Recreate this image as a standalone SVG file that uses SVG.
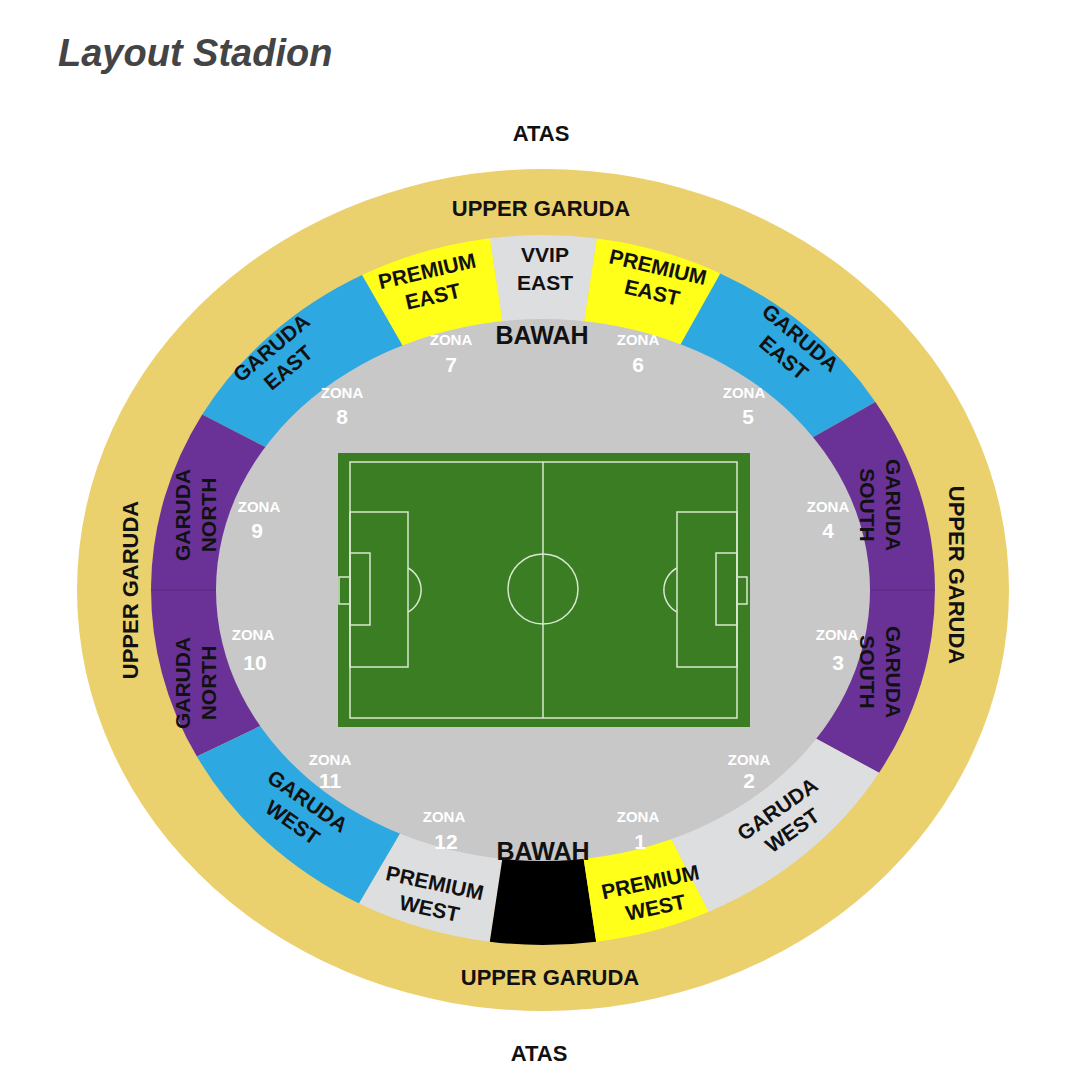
<svg xmlns="http://www.w3.org/2000/svg" width="1080" height="1072" viewBox="0 0 1080 1072">
<style>
text{font-family:"Liberation Sans",Arial,sans-serif;font-weight:bold;text-anchor:middle}
.l{font-size:22px;fill:#111}
.s{font-size:21px;fill:#111}
.z{font-size:15px;fill:#fff}
.zn{font-size:21px;fill:#fff}
.fl{fill:none;stroke:#d8e8d0;stroke-width:1.5}
</style>
<rect width="1080" height="1072" fill="#fff"/>
<text x="58" y="66" style="font-size:38px;font-style:italic;fill:#444;text-anchor:start">Layout Stadion</text>
<g id="outer"><ellipse cx="543" cy="590" rx="466" ry="421" fill="#EBD06E"/></g>
<g id="ring">
<path d="M543 590 L489.8 238.3 A392 355 0 0 1 596.9 238.4Z" fill="#DDDEE0"/>
<path d="M543 590 L362 275.1 A392 355 0 0 1 489.8 238.3Z" fill="#FFFF1A"/>
<path d="M543 590 L596.9 238.4 A392 355 0 0 1 720.3 273.4Z" fill="#FFFF1A"/>
<path d="M543 590 L202.2 414.6 A392 355 0 0 1 362 275.1Z" fill="#2DA8E0"/>
<path d="M543 590 L720.3 273.4 A392 355 0 0 1 875.4 401.9Z" fill="#2DA8E0"/>
<path d="M543 590 L196.9 756.6 A392 355 0 0 1 202.2 414.6Z" fill="#6A3296"/>
<path d="M543 590 L875.4 401.9 A392 355 0 0 1 879 772.8Z" fill="#6A3296"/>
<path d="M543 590 L359.1 903.5 A392 355 0 0 1 196.9 756.6Z" fill="#2DA8E0"/>
<path d="M543 590 L489.8 941.7 A392 355 0 0 1 359.1 903.5Z" fill="#DDDEE0"/>
<path d="M543 590 L596.2 941.7 A392 355 0 0 1 489.8 941.7Z" fill="#000"/>
<path d="M543 590 L708.8 911.7 A392 355 0 0 1 596.2 941.7Z" fill="#FFFF1A"/>
<path d="M543 590 L879 772.8 A392 355 0 0 1 708.8 911.7Z" fill="#DDDEE0"/>
<line x1="151" y1="590" x2="216" y2="590" stroke="#5a2a82" stroke-width="1"/>
<line x1="870" y1="590" x2="935" y2="590" stroke="#5a2a82" stroke-width="1"/>
</g>
<g id="bowl"><ellipse cx="543" cy="590" rx="327" ry="271" fill="#C8C8C8"/></g>
<g id="field">
<rect x="338" y="453" width="412" height="274" fill="#3A7D23"/>
<rect x="350" y="462" width="387" height="256" class="fl"/>
<line x1="543" y1="462" x2="543" y2="718" class="fl"/>
<circle cx="543" cy="589" r="35" class="fl"/>
<rect x="350" y="512" width="58" height="155" class="fl"/>
<rect x="350" y="553" width="20" height="72" class="fl"/>
<rect x="339" y="577" width="11" height="27" class="fl"/>
<path d="M408 568 A25 25 0 0 1 408 612" class="fl"/>
<rect x="677" y="512" width="60" height="155" class="fl"/>
<rect x="716" y="553" width="21" height="72" class="fl"/>
<rect x="737" y="577" width="10" height="27" class="fl"/>
<path d="M677 568 A25 25 0 0 0 677 612" class="fl"/>
</g>
<g id="labels">
<text x="541" y="141" class="l">ATAS</text>
<text x="539" y="1061" class="l">ATAS</text>
<text x="541" y="216" class="l">UPPER GARUDA</text>
<text x="550" y="985" class="l">UPPER GARUDA</text>
<text transform="translate(138,590) rotate(-90)" class="l">UPPER GARUDA</text>
<text transform="translate(949,575) rotate(90)" class="l">UPPER GARUDA</text>
<text x="545" y="262" class="s">VVIP</text><text x="545" y="290" class="s">EAST</text>
<text transform="translate(430,284) rotate(-13)" class="s"><tspan x="0" y="-6">PREMIUM</tspan><tspan x="0" y="20">EAST</tspan></text>
<text transform="translate(655,280) rotate(13)" class="s"><tspan x="0" y="-6">PREMIUM</tspan><tspan x="0" y="20">EAST</tspan></text>
<text transform="translate(280,358) rotate(-40)" class="s"><tspan x="0" y="-6">GARUDA</tspan><tspan x="0" y="20">EAST</tspan></text>
<text transform="translate(792,348) rotate(40)" class="s"><tspan x="0" y="-6">GARUDA</tspan><tspan x="0" y="20">EAST</tspan></text>
<text transform="translate(196,515) rotate(-90)" class="s"><tspan x="0" y="-6">GARUDA</tspan><tspan x="0" y="20">NORTH</tspan></text>
<text transform="translate(196,683) rotate(-90)" class="s"><tspan x="0" y="-6">GARUDA</tspan><tspan x="0" y="20">NORTH</tspan></text>
<text transform="translate(880,505) rotate(90)" class="s"><tspan x="0" y="-6">GARUDA</tspan><tspan x="0" y="20">SOUTH</tspan></text>
<text transform="translate(880,672) rotate(90)" class="s"><tspan x="0" y="-6">GARUDA</tspan><tspan x="0" y="20">SOUTH</tspan></text>
<text transform="translate(300,812) rotate(35)" class="s"><tspan x="0" y="-6">GARUDA</tspan><tspan x="0" y="20">WEST</tspan></text>
<text transform="translate(785,820) rotate(-35)" class="s"><tspan x="0" y="-6">GARUDA</tspan><tspan x="0" y="20">WEST</tspan></text>
<text transform="translate(432,896) rotate(12)" class="s"><tspan x="0" y="-6">PREMIUM</tspan><tspan x="0" y="20">WEST</tspan></text>
<text transform="translate(653,895) rotate(-12)" class="s"><tspan x="0" y="-6">PREMIUM</tspan><tspan x="0" y="20">WEST</tspan></text>
<text x="542" y="344" style="font-size:25px;fill:#111">BAWAH</text>
<text x="543" y="860" style="font-size:25px;fill:#111">BAWAH</text>
<text x="451" y="345" class="z">ZONA</text><text x="451" y="372" class="zn">7</text>
<text x="638" y="345" class="z">ZONA</text><text x="638" y="372" class="zn">6</text>
<text x="342" y="398" class="z">ZONA</text><text x="342" y="424" class="zn">8</text>
<text x="744" y="398" class="z">ZONA</text><text x="748" y="424" class="zn">5</text>
<text x="259" y="512" class="z">ZONA</text><text x="257" y="538" class="zn">9</text>
<text x="828" y="512" class="z">ZONA</text><text x="828" y="538" class="zn">4</text>
<text x="253" y="640" class="z">ZONA</text><text x="255" y="670" class="zn">10</text>
<text x="837" y="640" class="z">ZONA</text><text x="838" y="670" class="zn">3</text>
<text x="330" y="765" class="z">ZONA</text><text x="330" y="788" class="zn">11</text>
<text x="749" y="765" class="z">ZONA</text><text x="749" y="788" class="zn">2</text>
<text x="444" y="822" class="z">ZONA</text><text x="446" y="849" class="zn">12</text>
<text x="638" y="822" class="z">ZONA</text><text x="640" y="849" class="zn">1</text>
</g>
</svg>
